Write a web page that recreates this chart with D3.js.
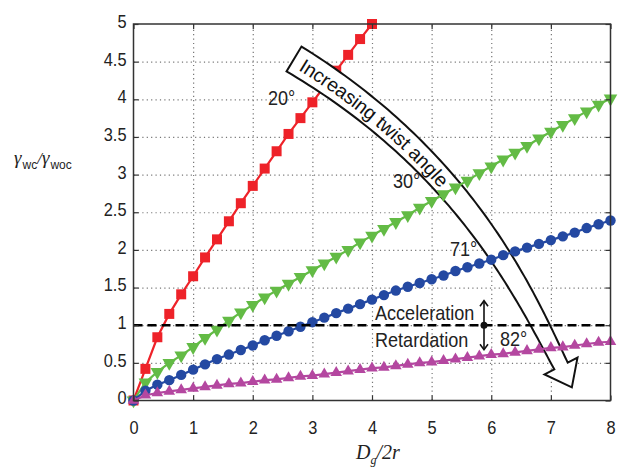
<!DOCTYPE html>
<html>
<head>
<meta charset="utf-8">
<script src="https://cdn.jsdelivr.net/npm/d3@7"></script>
<style>
  html, body { margin: 0; padding: 0; background: #fff; }
  svg { display: block; }
  .sf { font-family: "Liberation Sans", Arial, Helvetica, sans-serif; }
</style>
</head>
<body>
<svg id="chart" width="621" height="467"></svg>
<script>
// ---------------- data ----------------
const xVals = [0,0.2,0.4,0.6,0.8,1.0,1.2,1.4,1.6,1.8,2.0,2.2,2.4,2.6,2.8,3.0,3.2,3.4,3.6,3.8,4.0,
               4.2,4.4,4.6,4.8,5.0,5.2,5.4,5.6,5.8,6.0,6.2,6.4,6.6,6.8,7.0,7.2,7.4,7.6,7.8,8.0];
const y20 = [0,0.42,0.84,1.15,1.41,1.65,1.90,2.14,2.38,2.62,2.85,3.08,3.31,3.54,3.75,3.96,4.17,4.38,4.59,4.80,5.00];
const y30 = [0,0.24,0.38,0.50,0.60,0.71,0.83,0.94,1.06,1.17,1.27,1.37,1.46,1.55,1.64,1.73,1.82,1.91,2.00,2.10,2.19,
             2.28,2.37,2.46,2.56,2.65,2.74,2.83,2.92,3.02,3.11,3.20,3.29,3.38,3.48,3.57,3.66,3.75,3.84,3.93,4.01];
const y71 = [0,0.13,0.21,0.27,0.34,0.41,0.48,0.55,0.61,0.67,0.73,0.80,0.86,0.92,0.98,1.04,1.10,1.16,1.22,1.28,1.34,
             1.40,1.46,1.51,1.56,1.61,1.66,1.72,1.77,1.82,1.87,1.93,1.98,2.03,2.08,2.13,2.18,2.23,2.29,2.34,2.39];
const y82 = [0,0.07,0.10,0.12,0.14,0.16,0.18,0.20,0.22,0.23,0.25,0.27,0.28,0.30,0.32,0.33,0.35,0.37,0.39,0.41,0.43,
             0.44,0.46,0.48,0.50,0.51,0.53,0.55,0.57,0.59,0.61,0.62,0.64,0.66,0.68,0.70,0.71,0.73,0.75,0.77,0.78];
const xTicks = [0,1,2,3,4,5,6,7,8];
const yTicks = [0,0.5,1,1.5,2,2.5,3,3.5,4,4.5,5];
const seriesLabels = ["20°","30°","71°","82°"];
const refLevel = 1;
const arrowText = "Increasing twist angle";
const zoneLabels = ["Acceleration","Retardation"];

// ---------------- layout ----------------
const W = 621, H = 467;
const m = {left: 133.5, right: 10.5, top: 24, bottom: 66.5};
const x = d3.scaleLinear().domain([0, 8]).range([m.left, W - m.right]);
const y = d3.scaleLinear().domain([0, 5]).range([H - m.bottom, m.top]);
const svg = d3.select("#chart");

// horizontally condense text glyphs (reference uses a narrow sans face)
function condense(sel, f) {
  sel.each(function () {
    const L = this.getComputedTextLength();
    this.setAttribute("textLength", (L * f).toFixed(2));
    this.setAttribute("lengthAdjust", "spacingAndGlyphs");
  });
}

// grid
const gridStyle = g => { g.select(".domain").remove();
  g.selectAll("line").attr("stroke", "#777").attr("stroke-width", 1.2).attr("stroke-dasharray", "1.2,3.2"); };
svg.append("g").attr("transform", `translate(0,${y(0)})`)
  .call(d3.axisBottom(x).tickValues(xTicks.slice(1, -1)).tickSize(-(y(0) - y(5))).tickFormat(""))
  .call(gridStyle);
svg.append("g").attr("transform", `translate(${x(0)},0)`)
  .call(d3.axisLeft(y).tickValues(yTicks.slice(1, -1)).tickSize(-(x(8) - x(0))).tickFormat(""))
  .call(gridStyle);

// series helpers
const line = d3.line().x(d => x(d[0])).y(d => y(d[1]));
function pts(ys) { return ys.map((v, i) => [xVals[i], v]); }
function drawSeries(ys, color, sym, size, rot) {
  const g = svg.append("g");
  const p = pts(ys);
  g.append("path").attr("d", line(p)).attr("fill", "none").attr("stroke", color).attr("stroke-width", 2.2);
  g.selectAll("path.mk").data(p).join("path").attr("class", "mk")
    .attr("d", d3.symbol().type(sym).size(size)())
    .attr("transform", d => `translate(${x(d[0])},${y(d[1])}) rotate(${rot})`)
    .attr("fill", color);
}

// red 20°
drawSeries(y20, "#ee2229", d3.symbolSquare, 100, 0);

// curved arrow (drawn above red, below the other series)
(function () {
  const P0 = [294, 59], P1 = [465, 162], P2 = [525, 295], P3 = [561, 366];
  const bz = t => { const u = 1 - t;
    return [u*u*u*P0[0] + 3*u*u*t*P1[0] + 3*u*t*t*P2[0] + t*t*t*P3[0],
            u*u*u*P0[1] + 3*u*u*t*P1[1] + 3*u*t*t*P2[1] + t*t*t*P3[1]]; };
  const bd = t => { const u = 1 - t;
    return [3*u*u*(P1[0]-P0[0]) + 6*u*t*(P2[0]-P1[0]) + 3*t*t*(P3[0]-P2[0]),
            3*u*u*(P1[1]-P0[1]) + 6*u*t*(P2[1]-P1[1]) + 3*t*t*(P3[1]-P2[1])]; };
  const N = 90, Lp = [], Rp = [], cl = [];
  for (let i = 0; i <= N; i++) {
    const t = i / N, p = bz(t), d = bd(t), len = Math.hypot(d[0], d[1]);
    const n = [-d[1] / len, d[0] / len], w = 14.5 - 7 * t;
    Lp.push([p[0] + n[0]*w, p[1] + n[1]*w]);
    Rp.push([p[0] - n[0]*w, p[1] - n[1]*w]);
    cl.push(p);
  }
  const dE = bd(1), lE = Math.hypot(dE[0], dE[1]);
  const dir = [dE[0]/lE, dE[1]/lE], nE = [-dir[1], dir[0]];
  const head = [[P3[0] + nE[0]*18.5, P3[1] + nE[1]*18.5],
                [P3[0] + dir[0]*24, P3[1] + dir[1]*24],
                [P3[0] - nE[0]*18.5, P3[1] - nE[1]*18.5]];
  const poly = Lp.concat(head, Rp.slice().reverse());
  svg.append("path").attr("d", "M" + poly.map(p => p.map(v => v.toFixed(2)).join(",")).join("L") + "Z")
    .attr("fill", "#fff").attr("stroke", "#111").attr("stroke-width", 2).attr("stroke-linejoin", "miter");
  svg.append("defs").append("path").attr("id", "arrowPath")
    .attr("d", "M" + cl.map(p => p.map(v => v.toFixed(2)).join(",")).join("L"));
  svg.append("text").attr("class", "sf").attr("font-size", 19.5).attr("fill", "#111").attr("dy", "0.36em")
    .append("textPath").attr("href", "#arrowPath").attr("startOffset", 9).text(arrowText);
})();

drawSeries(y30, "#63bb45", d3.symbolTriangle, 80, 180);
drawSeries(y71, "#2449a2", d3.symbolCircle, 85, 0);
drawSeries(y82, "#b447a0", d3.symbolTriangle, 58, 0);

// reference dashed line
svg.append("line").attr("x1", x(0)).attr("x2", x(8)).attr("y1", y(refLevel)).attr("y2", y(refLevel))
  .attr("stroke", "#000").attr("stroke-width", 2.5).attr("stroke-dasharray", "9,5");

// box + inward ticks
svg.append("rect").attr("x", x(0)).attr("y", y(5)).attr("width", x(8) - x(0)).attr("height", y(0) - y(5))
  .attr("fill", "none").attr("stroke", "#333").attr("stroke-width", 1.5);
const tickStyle = g => { g.select(".domain").remove(); g.selectAll("line").attr("stroke", "#333").attr("stroke-width", 1.2); };
svg.append("g").attr("transform", `translate(0,${y(0)})`).call(d3.axisBottom(x).tickValues(xTicks).tickSize(-5).tickFormat("")).call(tickStyle);
svg.append("g").attr("transform", `translate(0,${y(5)})`).call(d3.axisTop(x).tickValues(xTicks).tickSize(-5).tickFormat("")).call(tickStyle);
svg.append("g").attr("transform", `translate(${x(0)},0)`).call(d3.axisLeft(y).tickValues(yTicks).tickSize(-5).tickFormat("")).call(tickStyle);
svg.append("g").attr("transform", `translate(${x(8)},0)`).call(d3.axisRight(y).tickValues(yTicks).tickSize(-5).tickFormat("")).call(tickStyle);

// tick labels
svg.append("g").attr("transform", `translate(0,${y(0)})`)
  .call(d3.axisBottom(x).tickValues(xTicks).tickSize(0).tickPadding(0).tickFormat(d => String(d)))
  .call(g => g.select(".domain").remove())
  .call(g => g.selectAll("text").attr("class", "sf").attr("font-family", null).attr("font-size", 19)
    .attr("fill", "#222").attr("y", 33.5).attr("dy", 0).call(condense, 0.86));
svg.append("g").attr("transform", `translate(${x(0)},0)`)
  .call(d3.axisLeft(y).tickValues(yTicks).tickSize(0).tickPadding(7).tickFormat(d => String(d)))
  .call(g => g.select(".domain").remove())
  .call(g => g.selectAll("text").attr("class", "sf").attr("font-family", null).attr("font-size", 19)
    .attr("fill", "#222").attr("dy", "0.18em").call(condense, 0.86));

// axis titles
const serif = "Liberation Serif, Times New Roman, serif";
const yl = svg.append("text").attr("x", 14).attr("y", 164).attr("fill", "#222");
yl.append("tspan").attr("font-family", serif).attr("font-style", "italic").attr("font-size", 19).text("γ");
yl.append("tspan").attr("class", "sf").attr("font-size", 12).attr("dy", 5).attr("dx", 1).text("wc");
yl.append("tspan").attr("font-family", serif).attr("font-style", "italic").attr("font-size", 17).attr("dy", -5).text("/");
yl.append("tspan").attr("font-family", serif).attr("font-style", "italic").attr("font-size", 19).text("γ");
yl.append("tspan").attr("class", "sf").attr("font-size", 12).attr("dy", 5).attr("dx", 1).text("woc");

const xl = svg.append("text").attr("x", 356).attr("y", 459).attr("fill", "#222")
  .attr("font-family", serif).attr("font-style", "italic");
xl.append("tspan").attr("font-size", 20).text("D");
xl.append("tspan").attr("font-size", 12).attr("dy", 5).text("g");
xl.append("tspan").attr("font-size", 20).attr("dy", -5).text("/2r");

// annotations
const ann = [
  {t: seriesLabels[0], x: 268, y: 105},
  {t: seriesLabels[1], x: 393, y: 188},
  {t: seriesLabels[2], x: 450, y: 256},
  {t: seriesLabels[3], x: 500, y: 346},
  {t: zoneLabels[0], x: 375, y: 320},
  {t: zoneLabels[1], x: 375, y: 347}
];
svg.append("g").selectAll("text").data(ann).join("text").attr("class", "sf")
  .attr("x", d => d.x).attr("y", d => d.y).attr("font-size", 21).attr("fill", "#222").text(d => d.t)
  .call(condense, 0.86);

// double arrow with dot
const ax = 484, ayc = y(refLevel);
const ga = svg.append("g").attr("stroke", "#111").attr("stroke-width", 1.6).attr("fill", "none");
ga.append("line").attr("x1", ax).attr("x2", ax).attr("y1", ayc - 24).attr("y2", ayc + 24);
ga.append("path").attr("d", `M${ax-4},${ayc-19}L${ax},${ayc-24.5}L${ax+4},${ayc-19}`);
ga.append("path").attr("d", `M${ax-4},${ayc+19}L${ax},${ayc+24.5}L${ax+4},${ayc+19}`);
svg.append("circle").attr("cx", ax).attr("cy", ayc).attr("r", 3.5).attr("fill", "#111");
</script>
</body>
</html>
